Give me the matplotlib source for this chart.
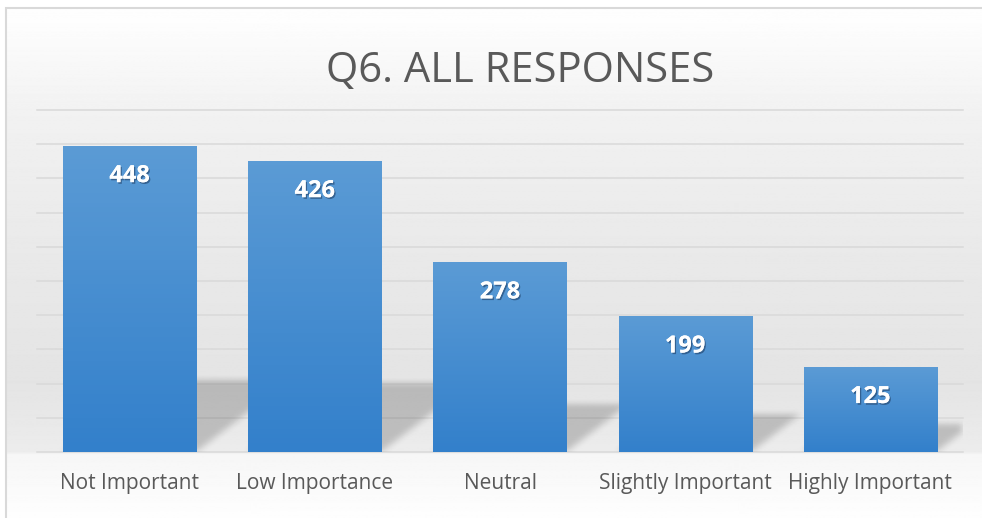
import numpy as np
import matplotlib
matplotlib.use("Agg")
from matplotlib import pyplot as plt
from matplotlib import patheffects
from matplotlib.patches import Rectangle

# Data:

categories = ["Not Important", "Low Importance", "Neutral", "Slightly Important", "Highly Important"]
responses = [448, 426, 278, 199, 125]
y_ticks = [0, 50, 100, 150, 200, 250, 300, 350, 400, 450, 500]
title = "Q6. ALL RESPONSES"

plt.rcParams['font.family'] = ['Open Sans', 'DejaVu Sans']

W, H = 982, 518
fig = plt.figure(figsize=(W / 100, H / 100), dpi=100)
fig.patch.set_facecolor('white')

# Chart area background (soft grey gradient)
bg = fig.add_axes([0, 0, 1, 1], zorder=-10)
rows = np.arange(H)
grey = np.interp(rows, [8, 110, 250, 380, 450, 453, 518], [254, 241, 233, 228, 236, 246, 254]) / 255
bg.imshow(np.repeat(grey[:, None], 2, axis=1), cmap='gray', vmin=0, vmax=1,
          aspect='auto', extent=(6, W, H, 8))
bg.set_xlim(0, W)
bg.set_ylim(H, 0)
bg.axis('off')

fig.add_artist(Rectangle((6 / W, -0.01), 1.0, 1 - 8 / H + 0.01, transform=fig.transFigure,
                         fill=False, ec='#d9d9d9', lw=1.5))

# Plot area
ax = fig.add_axes([37 / W, (H - 452) / H, 926 / W, 342 / H])
ax.patch.set_alpha(0)
x = np.arange(len(categories))
width = 0.72

bars = ax.bar(x, responses, width=width, color='none', zorder=3)

# bar gradient fill
top = np.array([91, 155, 213]) / 255
bottom = np.array([51, 128, 203]) / 255
grad = np.linspace(0, 1, 64)[:, None, None] * (bottom - top) + top
for b in bars:
    im = ax.imshow(grad, aspect='auto', zorder=3,
                   extent=(b.get_x(), b.get_x() + b.get_width(), 0, b.get_height()))
    im.set_clip_path(b)

# perspective shadows behind the bars
xs = np.linspace(-0.5, 4.5, 926)
ys = np.linspace(0, 500, 342)
X, Y = np.meshgrid(xs, ys)
mask = np.zeros_like(X)
for i, v in enumerate(responses):
    sh = 0.2 * v + 14.6
    dx = 1.3 * sh * 0.684 / 185.2
    t = Y / sh
    inside = (Y <= sh) & (X >= i - width / 2 + dx * t) & (X <= i + width / 2 + dx * t)
    mask[inside] = 1


def box_blur(a, r, axis):
    k = np.ones(2 * r + 1) / (2 * r + 1)
    return np.apply_along_axis(lambda m: np.convolve(m, k, mode='same'), axis, a)


for _ in range(2):
    mask = box_blur(mask, 3, 0)
    mask = box_blur(mask, 4, 1)
shadow = np.zeros((len(ys), len(xs), 4))
shadow[..., 3] = mask * 0.19
ax.imshow(shadow, origin='lower', extent=(-0.5, 4.5, 0, 500), aspect='auto', zorder=1)

# value labels
for i, v in enumerate(responses):
    ax.annotate(str(v), (x[i], v), xytext=(0, -22), textcoords='offset points',
                ha='center', va='center', color='white', fontsize=17, fontweight='bold', zorder=5,
                path_effects=[patheffects.withSimplePatchShadow(offset=(1, -1.2), shadow_rgbFace='#1f3f66', alpha=0.6),
                              patheffects.Normal()])

ax.set_xlim(-0.5, 4.5)
ax.set_ylim(0, 500)
ax.set_yticks(y_ticks)
ax.yaxis.grid(True, color='#d9d9d9', linewidth=1.1, zorder=0)
for line in ax.get_ygridlines():
    line.set_clip_on(False)
ax.set_axisbelow(True)
ax.set_xticks(x, categories)
ax.tick_params(axis='y', left=False, labelleft=False)
ax.tick_params(axis='x', length=0, pad=15, labelsize=15, labelcolor='#595959')
for s in ax.spines.values():
    s.set_visible(False)

fig.text(520 / W, 1 - 82 / H, title, ha='center', va='baseline', fontsize=30,
         color='#595959')

fig.savefig('out.png', dpi=100)
